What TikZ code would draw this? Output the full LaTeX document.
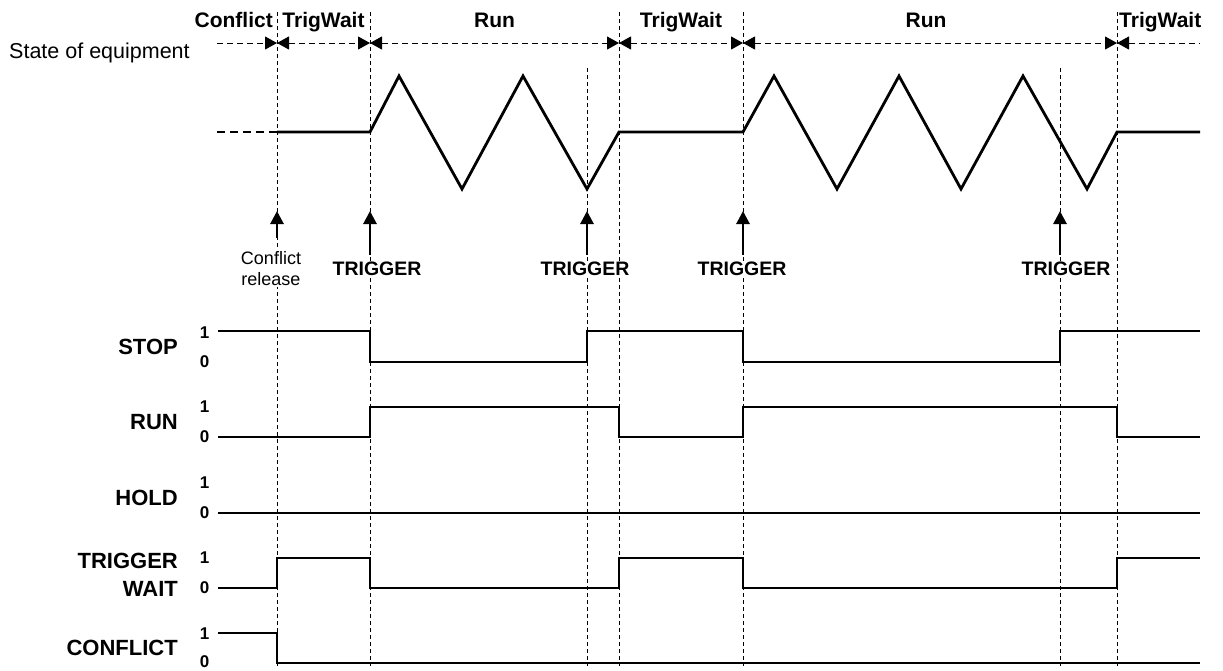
\documentclass[tikz,border=0pt]{standalone}
\usepackage{fontspec}
\setmainfont{Liberation Sans}
\usetikzlibrary{arrows.meta}
\begin{document}
\begin{tikzpicture}[x=1pt,y=-1pt,
  vdash/.style={line width=0.9pt, dash pattern=on 4pt off 3pt},
  hdash/.style={line width=0.9pt, dash pattern=on 6pt off 4pt, >={Triangle[length=12pt,width=13pt]}},
  wave/.style={line width=2.8pt, line join=miter},
  sig/.style={line width=2.5pt, line join=miter},
  trig/.style={line width=2.8pt, -{Triangle[length=13pt,width=13pt]}},
  toplbl/.style={font=\bfseries\fontsize{21}{24}\selectfont, inner sep=0pt, anchor=base},
  trglbl/.style={font=\bfseries\fontsize{19.5}{24}\selectfont, inner sep=1pt, fill=white},
  namelbl/.style={font=\bfseries\fontsize{22}{24}\selectfont, inner sep=0pt, anchor=east},
  digit/.style={font=\bfseries\fontsize{17}{19}\selectfont, inner sep=0pt},
  smalllbl/.style={font=\fontsize{18}{21}\selectfont, inner sep=1pt, fill=white, align=center}
]
\useasboundingbox (0,0) rectangle (1223,670);
\fill[white] (0,0) rectangle (1223,670);

% x positions
\def\xA{277}\def\xB{370}\def\xC{587}\def\xD{619}\def\xE{743}\def\xF{1060}\def\xG{1117}
\def\xS{218}\def\xR{1200}

% vertical dashed guide lines
\coordinate (v1t) at (\xA,12);  \coordinate (v1b) at (\xA,666);
\coordinate (v2t) at (\xB,12);  \coordinate (v2b) at (\xB,666);
\coordinate (v3t) at (\xC,68);  \coordinate (v3b) at (\xC,666);
\coordinate (v4t) at (\xD,12);  \coordinate (v4b) at (\xD,666);
\coordinate (v5t) at (\xE,12);  \coordinate (v5b) at (\xE,666);
\coordinate (v6t) at (\xF,68);  \coordinate (v6b) at (\xF,666);
\coordinate (v7t) at (\xG,12);  \coordinate (v7b) at (\xG,666);
\foreach \i in {1,...,7} { \draw[vdash] (v\i t) -- (v\i b); }

% top state bar
\coordinate (b0) at (217,43);
\coordinate (b1) at (\xA,43);
\coordinate (b2) at (\xB,43);
\coordinate (b3) at (\xD,43);
\coordinate (b4) at (\xE,43);
\coordinate (b5) at (\xG,43);
\coordinate (b6) at (\xR,43);
\draw[hdash,->] (b0) -- (b1);
\draw[hdash,<->] (b1) -- (b2);
\draw[hdash,<->] (b2) -- (b3);
\draw[hdash,<->] (b3) -- (b4);
\draw[hdash,<->] (b4) -- (b5);
\draw[hdash,<-] (b5) -- (b6);

\node[toplbl, anchor=base east] (lConf) at (273,27) {Conflict};
\node[toplbl] (lTW1) at (323.5,27) {TrigWait};
\node[toplbl] (lRun1) at (494.5,27) {Run};
\node[toplbl] (lTW2) at (681,27) {TrigWait};
\node[toplbl] (lRun2) at (926,27) {Run};
\node[toplbl, anchor=base west] (lTW3) at (1119,27) {TrigWait};

\node[font=\fontsize{21.5}{25}\selectfont, inner sep=0pt, anchor=base west] (soe) at (9,58) {State of equipment};

% equipment waveform
\draw[wave, dash pattern=on 8pt off 5pt] (217,132) -- (\xA,132);
\draw[wave] (\xA,132) -- (\xB,132) -- (399,76) -- (462,189) -- (523,76) -- (\xC,189) -- (\xD,132)
  -- (\xE,132) -- (774,76) -- (837,189) -- (899,76) -- (961,189) -- (1023,76) -- (1087,189) -- (\xG,132) -- (\xR,132);

% event arrows
\coordinate (a1b) at (\xA,238); \coordinate (a1t) at (\xA,211);
\coordinate (a2b) at (\xB,255); \coordinate (a2t) at (\xB,211);
\coordinate (a3b) at (\xC,255); \coordinate (a3t) at (\xC,211);
\coordinate (a4b) at (\xE,255); \coordinate (a4t) at (\xE,211);
\coordinate (a5b) at (\xF,255); \coordinate (a5t) at (\xF,211);
\foreach \i in {1,...,5} { \draw[trig] (a\i b) -- (a\i t); }

\node[smalllbl] (crel) at (271,268.5) {Conflict\\release};
\node[trglbl] (t1) at (377,269) {TRIGGER};
\node[trglbl] (t2) at (585,269) {TRIGGER};
\node[trglbl] (t3) at (742,269) {TRIGGER};
\node[trglbl] (t4) at (1066,269) {TRIGGER};

% signal names
\node[namelbl] (nStop) at (178,347) {STOP};
\node[namelbl] (nRun) at (178,422) {RUN};
\node[namelbl] (nHold) at (178,498) {HOLD};
\node[namelbl] (nTrig) at (178,560.5) {TRIGGER};
\node[namelbl] (nWait) at (178,589) {WAIT};
\node[namelbl] (nConf) at (178,648) {CONFLICT};

% level digits
\node[digit] (ds1) at (204.5,333) {1};
\node[digit] (ds0) at (204.5,362) {0};
\node[digit] (dr1) at (204.5,407) {1};
\node[digit] (dr0) at (204.5,437) {0};
\node[digit] (dh1) at (204.5,483) {1};
\node[digit] (dh0) at (204.5,513) {0};
\node[digit] (dw1) at (204.5,558) {1};
\node[digit] (dw0) at (204.5,588) {0};
\node[digit] (dc1) at (204.5,634) {1};
\node[digit] (dc0) at (204.5,662) {0};

% signal traces
\draw[sig] (\xS,331) -- (\xB,331) -- (\xB,362) -- (\xC,362) -- (\xC,331) -- (\xE,331) -- (\xE,362)
  -- (\xF,362) -- (\xF,331) -- (\xR,331);
\draw[sig] (\xS,437) -- (\xB,437) -- (\xB,407) -- (\xD,407) -- (\xD,437) -- (\xE,437) -- (\xE,407)
  -- (\xG,407) -- (\xG,437) -- (\xR,437);
\draw[sig] (\xS,513) -- (\xR,513);
\draw[sig] (\xS,588) -- (\xA,588) -- (\xA,558) -- (\xB,558) -- (\xB,588) -- (\xD,588) -- (\xD,558)
  -- (\xE,558) -- (\xE,588) -- (\xG,588) -- (\xG,558) -- (\xR,558);
\draw[sig] (\xS,633) -- (\xA,633) -- (\xA,663) -- (\xR,663);
\end{tikzpicture}
\end{document}
